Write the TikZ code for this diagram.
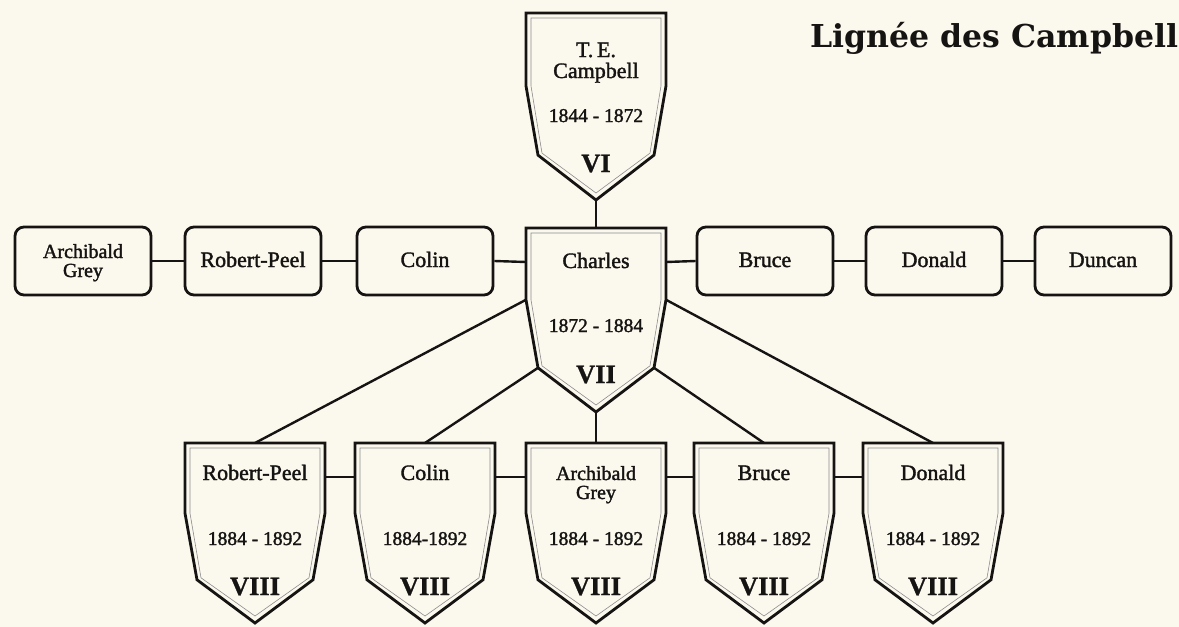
\documentclass[tikz,border=0pt]{standalone}
\usepackage{fontspec}
\setmainfont{Liberation Serif}[FakeBold=1.0]
\newfontfamily\medfont{Liberation Serif}[FakeBold=1.6]
\newfontfamily\titlefont{DejaVu Serif}
\definecolor{paper}{RGB}{251,248,238}
\definecolor{ink}{RGB}{22,20,18}
\tikzset{
  shieldline/.style={draw=ink,line width=2.8pt,line join=miter,fill=paper},
  innerline/.style={draw=black!45,line width=0.6pt},
  boxnode/.style={draw=ink,line width=2.8pt,rounded corners=9pt,minimum width=136pt,minimum height=68pt,fill=paper,inner sep=0pt},
  link/.style={draw=ink,line width=2.4pt},
  nametext/.style={anchor=base,inner sep=0pt,font=\medfont\fontsize{22}{22}\selectfont,text=ink},
  agtext/.style={anchor=base,inner sep=0pt,font=\medfont\fontsize{20}{20}\selectfont,text=ink},
  datetext/.style={anchor=base,inner sep=0pt,font=\medfont\fontsize{19.5}{19.5}\selectfont,text=ink},
  numtext/.style={anchor=base,inner sep=0pt,font=\fontsize{26.5}{26.5}\selectfont\bfseries,text=ink},
}
% name, cx, top, height
\newcommand\drawshield[4]{%
  \coordinate (#1-n) at (#2,#3);
  \coordinate (#1-nw) at (#2-70,#3);
  \coordinate (#1-ne) at (#2+70,#3);
  \coordinate (#1-cw) at (#2-70,#3+34);
  \coordinate (#1-ce) at (#2+70,#3+34);
  \coordinate (#1-w) at (#2-70,#3+0.39*#4);
  \coordinate (#1-e) at (#2+70,#3+0.39*#4);
  \coordinate (#1-sw) at (#2-58,#3+0.76*#4);
  \coordinate (#1-se) at (#2+58,#3+0.76*#4);
  \coordinate (#1-s) at (#2,#3+#4);
  \path[shieldline] (#1-nw) -- (#1-ne) -- (#1-e) -- (#1-se) -- (#1-s) -- (#1-sw) -- (#1-w) -- cycle;
  \draw[innerline] (#2-65,#3+5) -- (#2+65,#3+5) -- (#2+65,#3+0.39*#4) -- (#2+54,#3+0.76*#4-2) -- (#2,#3+#4-7) -- (#2-54,#3+0.76*#4-2) -- (#2-65,#3+0.39*#4) -- cycle;
}
\begin{document}
\begin{tikzpicture}[x=1pt,y=-1pt]
\useasboundingbox[fill=paper] (0,0) rectangle (1179,627);

% title
\node[anchor=base west,inner sep=0pt,text=ink] (title) at (810,47)
  {\resizebox{368pt}{!}{\titlefont\bfseries Lignée des Campbell}};

% shields
\drawshield{te}{596}{13}{187}
\drawshield{ch}{596}{228}{184}
\drawshield{b1}{255}{443}{180}
\drawshield{b2}{425}{443}{180}
\drawshield{b3}{596}{443}{180}
\drawshield{b4}{764}{443}{180}
\drawshield{b5}{933}{443}{180}

% middle row boxes
\node[boxnode] (mAG) at (83,261) {};
\node[boxnode] (mRP) at (253,261) {};
\node[boxnode] (mCO) at (425,261) {};
\node[boxnode] (mBR) at (765,261) {};
\node[boxnode] (mDO) at (934,261) {};
\node[boxnode] (mDU) at (1103,261) {};

% connectors
\draw[link] (te-s) -- (ch-n);
\draw[link] (mAG.east) -- (mRP.west);
\draw[link] (mRP.east) -- (mCO.west);
\draw[link] (mCO.east) -- (ch-cw);
\draw[link] (ch-ce) -- (mBR.west);
\draw[link] (mBR.east) -- (mDO.west);
\draw[link] (mDO.east) -- (mDU.west);
\draw[link] (ch-w) -- (b1-n);
\draw[link] (ch-sw) -- (b2-n);
\draw[link] (ch-s) -- (b3-n);
\draw[link] (ch-se) -- (b4-n);
\draw[link] (ch-e) -- (b5-n);
\draw[link] (b1-ce) -- (b2-cw);
\draw[link] (b2-ce) -- (b3-cw);
\draw[link] (b3-ce) -- (b4-cw);
\draw[link] (b4-ce) -- (b5-cw);

% top shield text
\node[nametext] (teA) at (596,57) {T.\,E.};
\node[nametext] (teB) at (596,78) {Campbell};
\node[datetext] (teD) at (596,122) {1844 - 1872};
\node[numtext] (teN) at (596,172) {VI};

% Charles
\node[nametext] (chA) at (596,268) {Charles};
\node[datetext] (chD) at (596,332) {1872 - 1884};
\node[numtext] (chN) at (596,383) {VII};

% middle row texts
\node[agtext] (mAGa) at (83,258) {Archibald};
\node[agtext] (mAGb) at (83,277) {Grey};
\node[nametext] (mRPa) at (253,267) {Robert-Peel};
\node[nametext] (mCOa) at (425,267) {Colin};
\node[nametext] (mBRa) at (765,267) {Bruce};
\node[nametext] (mDOa) at (934,267) {Donald};
\node[nametext] (mDUa) at (1103,267) {Duncan};

% bottom shields text
\node[nametext] (b1a) at (255,480) {Robert-Peel};
\node[nametext] (b2a) at (425,480) {Colin};
\node[agtext] (b3a) at (596,480) {Archibald};
\node[agtext] (b3b) at (596,499) {Grey};
\node[nametext] (b4a) at (764,480) {Bruce};
\node[nametext] (b5a) at (933,480) {Donald};

\node[datetext] (b1d) at (255,545) {1884 - 1892};
\node[datetext] (b2d) at (425,545) {1884-1892};
\node[datetext] (b3d) at (596,545) {1884 - 1892};
\node[datetext] (b4d) at (764,545) {1884 - 1892};
\node[datetext] (b5d) at (933,545) {1884 - 1892};

\node[numtext] (b1n) at (255,595) {VIII};
\node[numtext] (b2n) at (425,595) {VIII};
\node[numtext] (b3n) at (596,595) {VIII};
\node[numtext] (b4n) at (764,595) {VIII};
\node[numtext] (b5n) at (933,595) {VIII};
\end{tikzpicture}
\end{document}
